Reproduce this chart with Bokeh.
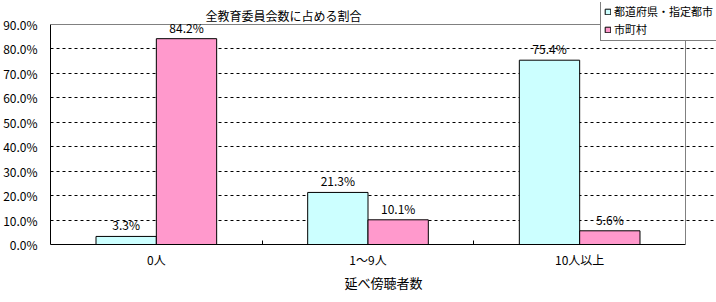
from bokeh.plotting import figure
from bokeh.models import (ColumnDataSource, Range1d, Legend, LegendItem, Label,
                          NumeralTickFormatter, SingleIntervalTicker, FixedTicker)
from bokeh.core.properties import value
from bokeh.embed import file_html
from bokeh.resources import INLINE

categories = ["0人", "1〜9人", "10人以上"]
pref_city = [0.033, 0.213, 0.754]
municipal = [0.842, 0.101, 0.056]
series_names = ["都道府県・指定都市", "市町村"]
title_text = "全教育委員会数に占める割合"
x_title = "延べ傍聴者数"
y_max = 0.9

FONT = "Noto Sans CJK JP"
n = len(categories)
bw = 0.285
off = 0.1425
centers = [i + 0.5 for i in range(n)]

src = ColumnDataSource(dict(
    xa=[c - off for c in centers], xb=[c + off for c in centers],
    a=pref_city, b=municipal,
    alab=[f"{v*100:.1f}%" for v in pref_city],
    blab=[f"{v*100:.1f}%" for v in municipal],
))

# frame: x 50..716, y 2..244 ; plotted axis area x 50..685, y 24..244
W, H = 716, 302
left, right_axis, bottom, top = 50, 685, 244, 2
px_per_x = (right_axis - left) / n
x_end = (W - left) / px_per_x
px_per_y = (bottom - 24) / y_max
y_end = (bottom - top) / px_per_y

p = figure(width=W, height=H, x_range=Range1d(0, x_end), y_range=Range1d(0, y_end),
           output_backend="svg", toolbar_location=None,
           min_border_left=left, min_border_right=0, min_border_top=top,
           min_border_bottom=H - bottom)
p.background_fill_color = "white"
p.border_fill_color = "white"
p.outline_line_color = None

r1 = p.vbar(x="xa", top="a", width=bw, source=src,
            fill_color="#CCFFFF", line_color="black", line_width=1)
r2 = p.vbar(x="xb", top="b", width=bw, source=src,
            fill_color="#FF99CC", line_color="black", line_width=1)

# plot-area border (top and right, gray)
p.line(x=[0, n, n], y=[y_max, y_max, 0], line_color="#808080", line_width=1)

p.text(x="xa", y="a", text="alab", source=src,
       text_align="center", text_baseline="bottom", y_offset=-3,
       text_font_size="12px", text_color="black", text_font=value(FONT))
p.text(x="xb", y="b", text="blab", source=src,
       text_align="center", text_baseline="bottom", y_offset=-3,
       text_font_size="12px", text_color="black", text_font=value(FONT))

p.xgrid.grid_line_color = None
p.ygrid.ticker = FixedTicker(ticks=[i / 10 for i in range(1, 9)])
p.ygrid.grid_line_color = "black"
p.ygrid.grid_line_dash = "3 3"
p.ygrid.grid_line_width = 1

p.yaxis.ticker = SingleIntervalTicker(interval=0.1)
p.yaxis.bounds = (0, y_max)
p.yaxis.formatter = NumeralTickFormatter(format="0.0%")
p.yaxis.axis_line_color = "black"
p.yaxis.major_tick_out = 0
p.yaxis.major_tick_in = 0
p.yaxis.minor_tick_line_color = None
p.yaxis.major_label_standoff = 9
p.yaxis.major_label_text_font = FONT
p.yaxis.major_label_text_font_size = "12px"
p.yaxis.major_label_text_color = "black"

p.xaxis.ticker = FixedTicker(ticks=centers, minor_ticks=list(range(1, n)))
p.xaxis.major_label_overrides = {c: cat for c, cat in zip(centers, categories)}
p.xaxis.bounds = (0, n)
p.xaxis.axis_line_color = "black"
p.xaxis.major_tick_line_color = None
p.xaxis.major_tick_out = 0
p.xaxis.major_tick_in = 0
p.xaxis.minor_tick_line_color = "black"
p.xaxis.minor_tick_in = 4
p.xaxis.minor_tick_out = 0
p.xaxis.major_label_standoff = 6
p.xaxis.major_label_text_font = FONT
p.xaxis.major_label_text_font_size = "12px"
p.xaxis.major_label_text_color = "black"
p.xaxis.axis_label = x_title
p.xaxis.axis_label_text_font = FONT
p.xaxis.axis_label_text_font_size = "13px"
p.xaxis.axis_label_text_font_style = "normal"
p.xaxis.axis_label_text_color = "black"
p.xaxis.axis_label_standoff = 2

title = Label(x=(283 - left) / px_per_x, y=(bottom - 15) / px_per_y, text=title_text,
              text_align="center", text_baseline="middle", text_font=FONT,
              text_font_size="12px", text_color="black")
p.add_layout(title)

legend = Legend(items=[LegendItem(label=series_names[0], renderers=[r1]),
                       LegendItem(label=series_names[1], renderers=[r2])],
                location=(550, 203), orientation="vertical",
                label_text_font=FONT, label_text_font_size="11px", label_text_color="black",
                glyph_width=7, glyph_height=7, label_standoff=3, spacing=2,
                padding=3, margin=0, border_line_color="black", border_line_width=1,
                background_fill_color="white", background_fill_alpha=1,
                label_height=14)
p.add_layout(legend, "center")

open("out.html", "w").write(file_html(p, INLINE))
